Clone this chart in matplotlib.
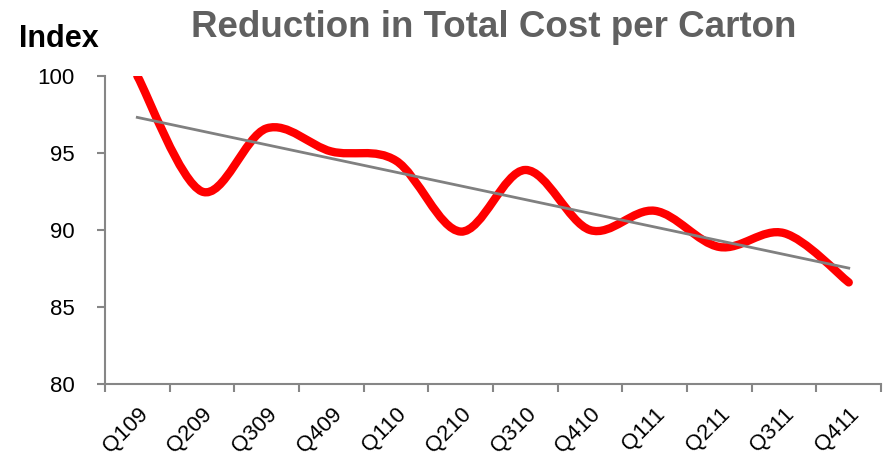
import numpy as np
import matplotlib.pyplot as plt
from matplotlib.path import Path
from matplotlib.patches import PathPatch

plt.rcParams['font.family'] = ['Liberation Sans', 'DejaVu Sans']

quarters = ['Q109', 'Q209', 'Q309', 'Q409', 'Q110', 'Q210',
            'Q310', 'Q410', 'Q111', 'Q211', 'Q311', 'Q411']
cost_index = [100.0, 92.5, 96.6, 95.1, 94.5, 89.9,
              93.9, 90.0, 91.25, 88.9, 89.8, 86.6]


def smooth_path(x, y, t=1.0 / 6):
    # Bezier segments like a spreadsheet "smoothed line"
    x = np.asarray(x, float)
    y = np.asarray(y, float)
    n = len(x)
    verts = [(x[0], y[0])]
    codes = [Path.MOVETO]
    for i in range(n - 1):
        p0 = i - 1 if i > 0 else i
        p3 = i + 2 if i + 2 < n else i + 1
        c1 = (x[i] + (x[i + 1] - x[p0]) * t, y[i] + (y[i + 1] - y[p0]) * t)
        c2 = (x[i + 1] - (x[p3] - x[i]) * t, y[i + 1] - (y[p3] - y[i]) * t)
        verts += [c1, c2, (x[i + 1], y[i + 1])]
        codes += [Path.CURVE4] * 3
    return Path(verts, codes)


fig = plt.figure(figsize=(8.85, 4.69), dpi=100)
ax = fig.add_axes([0.1186, 0.181, 0.877, 0.657])

xs = np.arange(len(quarters))
line = PathPatch(smooth_path(xs, cost_index), facecolor='none', edgecolor='#ff0000',
                 lw=6, capstyle='round', joinstyle='round', zorder=3)
ax.add_patch(line)

# linear trend
k, b = np.polyfit(xs, cost_index, 1)
ax.plot(xs, k * xs + b, color='#808080', lw=2, zorder=4)

ax.set_xlim(-0.5, len(quarters) - 0.5)
ax.set_ylim(80, 100)
ax.set_yticks([80, 85, 90, 95, 100])
ax.set_xticks(xs)
ax.set_xticklabels(quarters, rotation=45, ha='right', va='top',
                   rotation_mode='anchor', fontsize=16)
ax.set_xticks(np.arange(-0.5, len(quarters)), minor=True)
ax.tick_params(axis='x', which='major', length=0, pad=14)
ax.tick_params(axis='x', which='minor', length=6, width=1.5, color='#868686')
ax.tick_params(axis='y', length=6, width=1.5, color='#868686', labelsize=16, pad=16)

for side in ['top', 'right']:
    ax.spines[side].set_visible(False)
for side in ['left', 'bottom']:
    ax.spines[side].set_color('#868686')
    ax.spines[side].set_linewidth(1.5)

fig.text(0.558, 0.942, 'Reduction in Total Cost per Carton', ha='center', va='center',
         fontsize=26.5, fontweight='bold', color='#606060')
fig.text(0.067, 0.917, 'Index', ha='center', va='center', fontsize=22,
         fontweight='bold', color='black')

fig.savefig('out.png', dpi=100)
